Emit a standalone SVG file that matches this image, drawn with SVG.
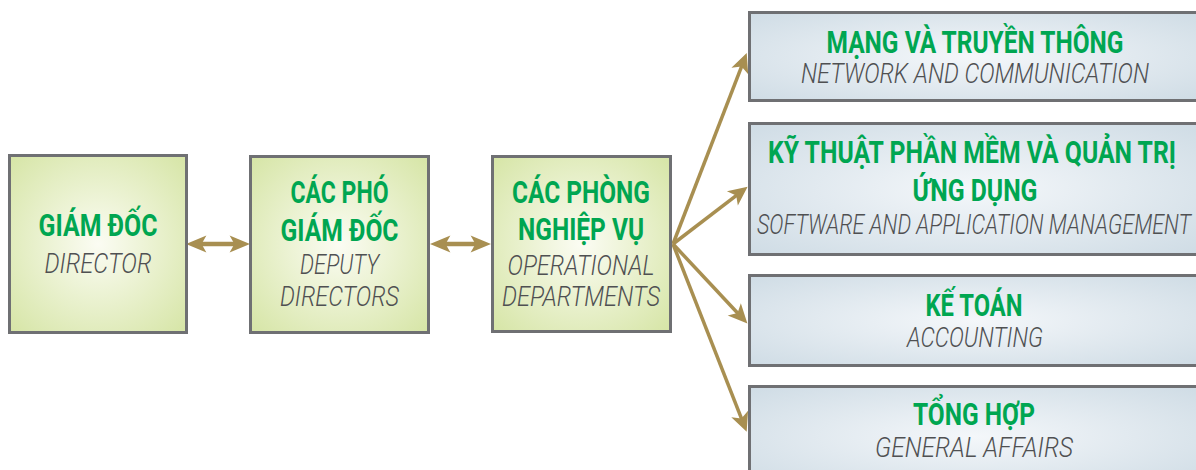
<svg xmlns="http://www.w3.org/2000/svg" width="1196" height="470" viewBox="0 0 1196 470">
  <defs>
    <radialGradient id="gGreen" cx="50%" cy="50%" r="70%">
      <stop offset="0" stop-color="#fbfcf3"/>
      <stop offset="1" stop-color="#d6e5a6"/>
    </radialGradient>
    <radialGradient id="gBlue" cx="50%" cy="50%" r="70%">
      <stop offset="0" stop-color="#f4f7fa"/>
      <stop offset="1" stop-color="#cfdce5"/>
    </radialGradient>
    <marker id="head" markerUnits="userSpaceOnUse" markerWidth="30" markerHeight="30" refX="0" refY="0" viewBox="-10 -10 25 20" orient="auto-start-reverse" overflow="visible">
      <path d="M10,0 L-6,-7.5 L-2,0 L-6,7.5 Z" fill="#a88f51"/>
    </marker>
    <marker id="head2" markerUnits="userSpaceOnUse" markerWidth="30" markerHeight="30" refX="0" refY="0" viewBox="-10 -10 25 20" orient="auto-start-reverse" overflow="visible">
      <path d="M10,0 L-7,-7 L-3,0 L-7,7 Z" fill="#a88f51"/>
    </marker>
  </defs>
  <style>
    .box { stroke: #6f7073; stroke-width: 3; }
    .green { fill: url(#gGreen); }
    .blue { fill: url(#gBlue); }
    .title { font-family: Roboto, "Liberation Sans", sans-serif; font-weight: 700; font-size: 32px; fill: #00a651; text-anchor: middle; }
    .sub { font-family: Roboto, "Liberation Sans", sans-serif; font-weight: 300; font-style: italic; font-size: 27px; fill: #4f5052; text-anchor: middle; }
    .link { stroke: #a88f51; stroke-width: 3.5; fill: none; }
    .dbl { stroke: #a88f51; stroke-width: 4.5; fill: none; }
  </style>

  <!-- connectors -->
  <g id="connectors">
    <line class="dbl" x1="198" y1="244" x2="238" y2="244" marker-start="url(#head2)" marker-end="url(#head2)"/>
    <line class="dbl" x1="442" y1="244" x2="479" y2="244" marker-start="url(#head2)" marker-end="url(#head2)"/>
    <line class="link" x1="673" y1="244" x2="742.4" y2="64.3" marker-end="url(#head)"/>
    <line class="link" x1="673" y1="244" x2="738.1" y2="194.1" marker-end="url(#head)"/>
    <line class="link" x1="673" y1="244" x2="739.2" y2="314.7" marker-end="url(#head)"/>
    <line class="link" x1="673" y1="244" x2="742.3" y2="420.7" marker-end="url(#head)"/>
  </g>

  <!-- director -->
  <g id="director">
    <rect class="box green" x="9.5" y="155.5" width="177" height="177"/>
    <text class="title" x="98" y="236" textLength="119" lengthAdjust="spacingAndGlyphs">GIÁM ĐỐC</text>
    <text class="sub" x="98" y="273" textLength="107" lengthAdjust="spacingAndGlyphs">DIRECTOR</text>
  </g>

  <!-- deputy directors -->
  <g id="deputy-directors">
    <rect class="box green" x="250.5" y="156.5" width="178" height="176"/>
    <text class="title" x="339.5" y="203" textLength="98" lengthAdjust="spacingAndGlyphs">CÁC PHÓ</text>
    <text class="title" x="339.5" y="241" textLength="118" lengthAdjust="spacingAndGlyphs">GIÁM ĐỐC</text>
    <text class="sub" x="339.5" y="274" textLength="79" lengthAdjust="spacingAndGlyphs">DEPUTY</text>
    <text class="sub" x="339.5" y="306" textLength="119" lengthAdjust="spacingAndGlyphs">DIRECTORS</text>
  </g>

  <!-- operational departments -->
  <g id="operational-departments">
    <rect class="box green" x="492.5" y="156.5" width="178" height="175"/>
    <text class="title" x="581" y="203" textLength="138" lengthAdjust="spacingAndGlyphs">CÁC PHÒNG</text>
    <text class="title" x="581" y="240" textLength="126" lengthAdjust="spacingAndGlyphs">NGHIỆP VỤ</text>
    <text class="sub" x="581" y="275" textLength="147" lengthAdjust="spacingAndGlyphs">OPERATIONAL</text>
    <text class="sub" x="581" y="306" textLength="158" lengthAdjust="spacingAndGlyphs">DEPARTMENTS</text>
  </g>

  <!-- department boxes run off the right edge; right border sits just past the page -->
  <g id="network">
    <rect class="box blue" x="749.5" y="12.5" width="448" height="88"/>
    <text class="title" x="975" y="53" textLength="297" lengthAdjust="spacingAndGlyphs">MẠNG VÀ TRUYỀN THÔNG</text>
    <text class="sub" x="975" y="83" textLength="348" lengthAdjust="spacingAndGlyphs">NETWORK AND COMMUNICATION</text>
  </g>

  <g id="software">
    <rect class="box blue" x="749.5" y="123.5" width="448" height="131"/>
    <text class="title" x="972" y="163" textLength="408" lengthAdjust="spacingAndGlyphs">KỸ THUẬT PHẦN MỀM VÀ QUẢN TRỊ</text>
    <text class="title" x="975" y="201" textLength="125" lengthAdjust="spacingAndGlyphs">ỨNG DỤNG</text>
    <text class="sub" x="974" y="234" textLength="434" lengthAdjust="spacingAndGlyphs">SOFTWARE AND APPLICATION MANAGEMENT</text>
  </g>

  <g id="accounting">
    <rect class="box blue" x="749.5" y="275.5" width="448" height="90"/>
    <text class="title" x="974" y="316" textLength="97" lengthAdjust="spacingAndGlyphs">KẾ TOÁN</text>
    <text class="sub" x="975" y="347" textLength="136" lengthAdjust="spacingAndGlyphs">ACCOUNTING</text>
  </g>

  <g id="general-affairs">
    <rect class="box blue" x="749.5" y="386.5" width="448" height="100"/>
    <text class="title" x="974" y="425" textLength="122" lengthAdjust="spacingAndGlyphs">TỔNG HỢP</text>
    <text class="sub" x="974" y="457" textLength="198" lengthAdjust="spacingAndGlyphs">GENERAL AFFAIRS</text>
  </g>
</svg>
